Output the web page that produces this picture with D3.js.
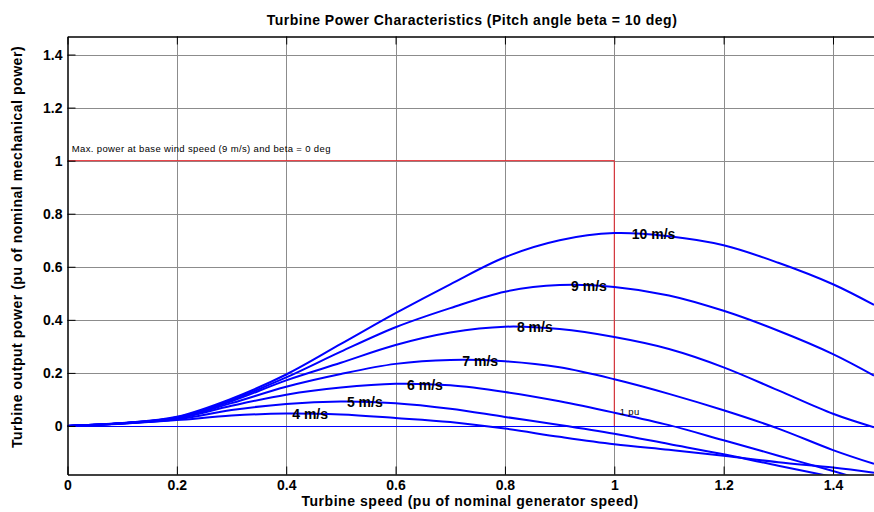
<!DOCTYPE html>
<html>
<head>
<meta charset="utf-8">
<script src="https://cdn.jsdelivr.net/npm/d3@7"></script>
<style>
  body { margin: 0; background: #fff; }
  svg text { font-family: "Liberation Sans", Arial, sans-serif; }
</style>
</head>
<body>
<div id="container"></div>
<script>
// Velikost obrázku
const width = 874;
const height = 512;

// Okraje os (px)
const marginTop = 36.5;
const marginRight = 0;
const marginBottom = 37.5;
const marginLeft = 67.5;

// Data: otáčky turbíny (pu) a výkon pro jednotlivé rychlosti větru (pu)
const turbineSpeed = [0, 0.1, 0.2, 0.3, 0.4, 0.5, 0.6, 0.7, 0.8, 0.9, 1.0, 1.1, 1.2, 1.3, 1.4, 1.475];
const power4 = [0, 0.008, 0.022, 0.039, 0.047, 0.043, 0.030, 0.015, -0.010, -0.041, -0.069, -0.090, -0.112, -0.137, -0.157, -0.176];
const power5 = [0, 0.009, 0.025, 0.060, 0.083, 0.092, 0.086, 0.065, 0.034, 0.004, -0.029, -0.068, -0.107, -0.150, -0.192, -0.225];
const power6 = [0, 0.010, 0.028, 0.076, 0.118, 0.145, 0.159, 0.153, 0.128, 0.093, 0.050, 0.003, -0.054, -0.112, -0.170, -0.215];
const power7 = [0, 0.010, 0.030, 0.086, 0.148, 0.196, 0.234, 0.249, 0.244, 0.221, 0.176, 0.121, 0.059, -0.010, -0.091, -0.143];
const power8 = [0, 0.010, 0.032, 0.093, 0.172, 0.238, 0.305, 0.352, 0.374, 0.365, 0.335, 0.290, 0.221, 0.134, 0.046, -0.005];
const power9 = [0, 0.011, 0.033, 0.098, 0.183, 0.280, 0.372, 0.444, 0.506, 0.531, 0.524, 0.492, 0.434, 0.359, 0.271, 0.190];
const power10 = [0, 0.011, 0.035, 0.103, 0.194, 0.309, 0.425, 0.534, 0.636, 0.700, 0.727, 0.715, 0.681, 0.615, 0.534, 0.456];

// Popisky křivek (umístěny u maxima)
const windLabels = ["4 m/s", "5 m/s", "6 m/s", "7 m/s", "8 m/s", "9 m/s", "10 m/s"];
const labelX = [0.411, 0.511, 0.621, 0.722, 0.822, 0.921, 1.032];
const labelY = [0.044, 0.090, 0.153, 0.246, 0.372, 0.529, 0.725];

// Tick labels
const xTicks = [0, 0.2, 0.4, 0.6, 0.8, 1, 1.2, 1.4];
const yTicks = [0, 0.2, 0.4, 0.6, 0.8, 1, 1.2, 1.4];

// Referenční čára (max. výkon pro 9 m/s, beta = 0)
const refX = [0, 1, 1];
const refY = [1, 1, 0];

const curves = [power4, power5, power6, power7, power8, power9, power10];

// Osa X
const x = d3.scaleLinear()
    .domain([0, 1.475])
    .range([marginLeft, width - marginRight]);

// Osa Y
const y = d3.scaleLinear()
    .domain([-0.183, 1.468])
    .range([height - marginBottom, marginTop]);

const svg = d3.create("svg")
    .attr("width", width)
    .attr("height", height);

svg.append("rect")
    .attr("width", width)
    .attr("height", height)
    .attr("fill", "#fff");

svg.append("clipPath")
    .attr("id", "plot-clip")
  .append("rect")
    .attr("x", marginLeft)
    .attr("y", marginTop)
    .attr("width", width - marginLeft - marginRight)
    .attr("height", height - marginTop - marginBottom);

// Mřížka
svg.append("g")
    .selectAll("line")
    .data(xTicks.filter(d => d > 0))
    .join("line")
    .attr("x1", d => Math.round(x(d)) + 0.5)
    .attr("x2", d => Math.round(x(d)) + 0.5)
    .attr("y1", marginTop)
    .attr("y2", height - marginBottom)
    .attr("stroke", "#8c8c8c")
    .attr("stroke-width", 1);

svg.append("g")
    .selectAll("line")
    .data(yTicks)
    .join("line")
    .attr("x1", marginLeft)
    .attr("x2", width - marginRight)
    .attr("y1", d => Math.round(y(d)) + 0.5)
    .attr("y2", d => Math.round(y(d)) + 0.5)
    .attr("stroke", "#8c8c8c")
    .attr("stroke-width", 1);

const plot = svg.append("g").attr("clip-path", "url(#plot-clip)");

// Nulová čára
plot.append("line")
    .attr("x1", x(0))
    .attr("x2", x(1.475))
    .attr("y1", Math.round(y(0)) + 0.5)
    .attr("y2", Math.round(y(0)) + 0.5)
    .attr("stroke", "#0000ff")
    .attr("stroke-width", 1);

// Červená referenční čára
plot.append("path")
    .datum(refX.map((d, i) => [d, refY[i]]))
    .attr("fill", "none")
    .attr("stroke", "#e8232a")
    .attr("stroke-width", 1)
    .attr("d", d3.line().x(d => x(d[0])).y(d => y(d[1])));

// Křivky výkonu
const linie = d3.line()
    .curve(d3.curveCatmullRom.alpha(0.5))
    .x((d, i) => x(turbineSpeed[i]))
    .y(d => y(d));

plot.selectAll(".curve")
    .data(curves)
    .join("path")
    .attr("class", "curve")
    .attr("fill", "none")
    .attr("stroke", "#0000ff")
    .attr("stroke-width", 2)
    .attr("d", linie);

// Popisky rychlostí větru
svg.append("g")
    .selectAll("text")
    .data(windLabels)
    .join("text")
    .attr("x", (d, i) => x(labelX[i]))
    .attr("y", (d, i) => y(labelY[i]))
    .attr("dy", "0.36em")
    .style("font-size", "14px")
    .style("font-weight", "bold")
    .text(d => d);

// Anotace
svg.append("text")
    .attr("x", x(0.008))
    .attr("y", y(1.034))
    .style("font-size", "9.5px")
    .style("letter-spacing", "0.35px")
    .text("Max. power at base wind speed (9 m/s) and beta = 0 deg");

svg.append("text")
    .attr("x", x(1.01))
    .attr("y", y(0.043))
    .style("font-size", "9.5px")
    .style("letter-spacing", "0.35px")
    .text("1 pu");

// Osa X (dole a nahoře, ticky dovnitř)
svg.append("g")
    .attr("transform", `translate(0,${height - marginBottom})`)
    .call(d3.axisBottom(x).tickValues(xTicks).tickFormat(d3.format("")).tickSizeInner(-8).tickSizeOuter(0).tickPadding(6))
    .call(g => g.selectAll("text").style("font-size", "14px").style("font-weight", "bold").attr("fill", "#000"));

svg.append("g")
    .attr("transform", `translate(0,${marginTop})`)
    .call(d3.axisTop(x).tickValues(xTicks).tickFormat("").tickSizeInner(-8).tickSizeOuter(0));

// Osa Y
svg.append("g")
    .attr("transform", `translate(${marginLeft},0)`)
    .call(d3.axisLeft(y).tickValues(yTicks).tickFormat(d3.format("")).tickSizeInner(-8).tickSizeOuter(0).tickPadding(5))
    .call(g => g.selectAll("text").style("font-size", "14px").style("font-weight", "bold").attr("fill", "#000"));

svg.selectAll(".domain").attr("stroke", "#000").attr("stroke-width", 1.5);

// Titulek
svg.append("text")
    .attr("x", 472)
    .attr("y", 25)
    .attr("text-anchor", "middle")
    .style("font-size", "14px")
    .style("font-weight", "bold")
    .style("letter-spacing", "0.5px")
    .text("Turbine Power Characteristics (Pitch angle beta = 10 deg)");

// Popisky os
svg.append("text")
    .attr("x", 470)
    .attr("y", 506)
    .attr("text-anchor", "middle")
    .style("font-size", "14px")
    .style("font-weight", "bold")
    .style("letter-spacing", "0.55px")
    .text("Turbine speed (pu of nominal generator speed)");

svg.append("text")
    .attr("transform", "translate(22,247) rotate(-90)")
    .attr("text-anchor", "middle")
    .style("font-size", "14px")
    .style("font-weight", "bold")
    .style("letter-spacing", "0.55px")
    .text("Turbine output power (pu of nominal mechanical power)");

container.append(svg.node());
</script>
</body>
</html>
